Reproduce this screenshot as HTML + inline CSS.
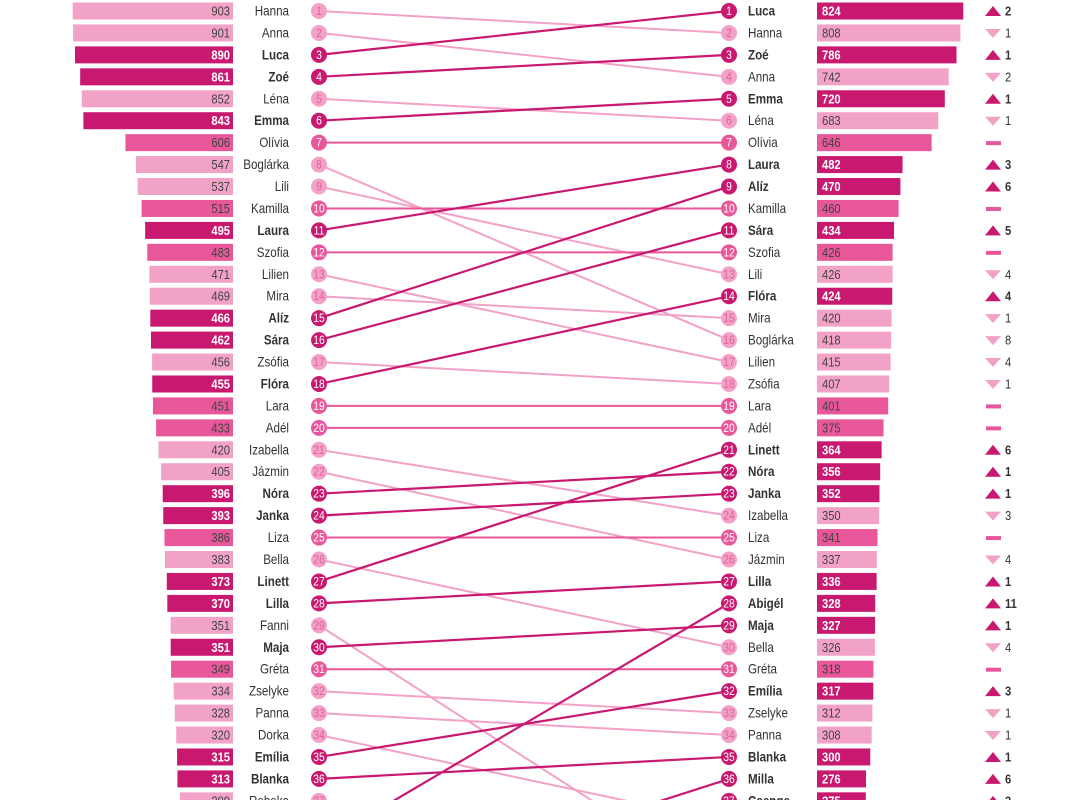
<!DOCTYPE html>
<html><head><meta charset="utf-8"><style>
html,body{margin:0;padding:0;background:#fff;width:1086px;height:800px;overflow:hidden}
svg{display:block;overflow:hidden}
svg text{font-family:"Liberation Sans Narrow","Liberation Sans",sans-serif}
</style></head><body>
<svg id="s" width="1086" height="800" xmlns="http://www.w3.org/2000/svg"></svg>
<script>
var C={D:"#c8186f",M:"#e8579a",L:"#f3a2c7"};
var left=[["Hanna",903,"L"],["Anna",901,"L"],["Luca",890,"D"],["Zoé",861,"D"],["Léna",852,"L"],["Emma",843,"D"],["Olívia",606,"M"],["Boglárka",547,"L"],["Lili",537,"L"],["Kamilla",515,"M"],["Laura",495,"D"],["Szofia",483,"M"],["Lilien",471,"L"],["Mira",469,"L"],["Alíz",466,"D"],["Sára",462,"D"],["Zsófia",456,"L"],["Flóra",455,"D"],["Lara",451,"M"],["Adél",433,"M"],["Izabella",420,"L"],["Jázmin",405,"L"],["Nóra",396,"D"],["Janka",393,"D"],["Liza",386,"M"],["Bella",383,"L"],["Linett",373,"D"],["Lilla",370,"D"],["Fanni",351,"L"],["Maja",351,"D"],["Gréta",349,"M"],["Zselyke",334,"L"],["Panna",328,"L"],["Dorka",320,"L"],["Emília",315,"D"],["Blanka",313,"D"],["Rebeka",299,"L"]];
var right=[["Luca",824,"D",2],["Hanna",808,"L",-1],["Zoé",786,"D",1],["Anna",742,"L",-2],["Emma",720,"D",1],["Léna",683,"L",-1],["Olívia",646,"M",0],["Laura",482,"D",3],["Alíz",470,"D",6],["Kamilla",460,"M",0],["Sára",434,"D",5],["Szofia",426,"M",0],["Lili",426,"L",-4],["Flóra",424,"D",4],["Mira",420,"L",-1],["Boglárka",418,"L",-8],["Lilien",415,"L",-4],["Zsófia",407,"L",-1],["Lara",401,"M",0],["Adél",375,"M",0],["Linett",364,"D",6],["Nóra",356,"D",1],["Janka",352,"D",1],["Izabella",350,"L",-3],["Liza",341,"M",0],["Jázmin",337,"L",-4],["Lilla",336,"D",1],["Abigél",328,"D",11],["Maja",327,"D",1],["Bella",326,"L",-4],["Gréta",318,"M",0],["Emília",317,"D",3],["Zselyke",312,"L",-1],["Panna",308,"L",-1],["Blanka",300,"D",1],["Milla",276,"D",6],["Csenge",275,"D",3]];
var extraRight={"Fanni":41,"Dorka":38,"Rebeka":39};
var extraLeft={"Abigél":39,"Milla":42,"Csenge":40};
function Y(r){return 11+(r-1)*21.94;}
var s=document.getElementById("s"),NS="http://www.w3.org/2000/svg";
function el(t,a,txt){var e=document.createElementNS(NS,t);for(var k in a)e.setAttribute(k,a[k]);if(txt!=null)e.textContent=txt;s.appendChild(e);return e;}
function tx(x,y,a,txt){a.x=0;a.y=0;a.transform="translate("+x+","+y+") scale(0.86,1)";return el("text",a,txt);}
var rpos={};right.forEach(function(r,i){rpos[r[0]]=i+1;});
var lpos={};left.forEach(function(r,i){lpos[r[0]]=i+1;});
var LX=319,RX=729,K=0.1775;
["L","M","D"].forEach(function(t){
 left.forEach(function(r,i){if(r[2]!==t)return;var rr=rpos[r[0]]||extraRight[r[0]];if(!rr)return;
  el("line",{x1:LX,y1:Y(i+1),x2:RX,y2:Y(rr),stroke:C[t],"stroke-width":t=="D"?2.2:2});});
 right.forEach(function(r,i){if(r[2]!==t)return;if(lpos[r[0]])return;var ll=extraLeft[r[0]];
  el("line",{x1:LX,y1:Y(ll),x2:RX,y2:Y(i+1),stroke:C[t],"stroke-width":2.2});});
});
left.forEach(function(r,i){var y=Y(i+1),w=r[1]*K,c=C[r[2]];
 el("rect",{x:233-w,y:y-8.5,width:w,height:17,fill:c});
 tx(230,y+4.5,{"text-anchor":"end","font-size":13,fill:r[2]=="D"?"#fff":"#444","font-weight":r[2]=="D"?"bold":"normal"},r[1]);
 tx(289,y+4.5,{"text-anchor":"end","font-size":13.5,fill:"#333","font-weight":r[2]=="D"?"bold":"normal"},r[0]);
 el("circle",{cx:LX,cy:y,r:8,fill:c});
 tx(LX,y+4,{"text-anchor":"middle","font-size":12,fill:r[2]=="L"?"#e0609c":"#fff"},i+1);
});
right.forEach(function(r,i){var y=Y(i+1),w=r[1]*K,c=C[r[2]];
 el("rect",{x:817,y:y-8.5,width:w,height:17,fill:c});
 tx(822,y+4.5,{"font-size":13,fill:r[2]=="D"?"#fff":"#444","font-weight":r[2]=="D"?"bold":"normal"},r[1]);
 tx(748,y+4.5,{"font-size":13.5,fill:"#333","font-weight":r[2]=="D"?"bold":"normal"},r[0]);
 el("circle",{cx:RX,cy:y,r:8,fill:c});
 tx(RX,y+4,{"text-anchor":"middle","font-size":12,fill:r[2]=="L"?"#e0609c":"#fff"},i+1);
 var d=r[3];
 if(d>0){el("path",{d:"M985 "+(y+5)+" L993 "+(y-5)+" L1001 "+(y+5)+" Z",fill:C.D});
  tx(1005,y+4.5,{"font-size":13,"font-weight":"bold",fill:"#333"},d);}
 else if(d<0){el("path",{d:"M985 "+(y-4)+" L1001 "+(y-4)+" L993 "+(y+5)+" Z",fill:C.L});
  tx(1005,y+4.5,{"font-size":13,fill:"#333"},-d);}
 else el("rect",{x:986,y:y-1.5,width:15,height:4,fill:C.M});
});
</script>
</body></html>
